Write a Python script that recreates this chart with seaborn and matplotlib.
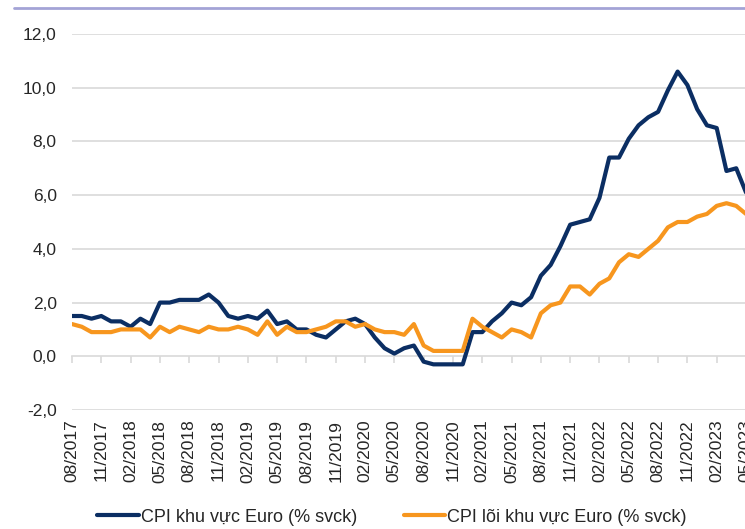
import pandas as pd
import numpy as np
import matplotlib
matplotlib.use("Agg")
import matplotlib.pyplot as plt
import seaborn as sns
from matplotlib.lines import Line2D

# monthly, 08/2017 .. 05/2023
months = pd.date_range("2017-08-01", "2023-05-01", freq="MS").strftime("%m/%Y").tolist()

cpi = [1.5, 1.5, 1.4, 1.5, 1.3,
       1.3, 1.1, 1.4, 1.2, 2.0, 2.0, 2.1, 2.1, 2.1, 2.3, 2.0, 1.5,
       1.4, 1.5, 1.4, 1.7, 1.2, 1.3, 1.0, 1.0, 0.8, 0.7, 1.0, 1.3,
       1.4, 1.2, 0.7, 0.3, 0.1, 0.3, 0.4, -0.2, -0.3, -0.3, -0.3, -0.3,
       0.9, 0.9, 1.3, 1.6, 2.0, 1.9, 2.2, 3.0, 3.4, 4.1, 4.9, 5.0,
       5.1, 5.9, 7.4, 7.4, 8.1, 8.6, 8.9, 9.1, 9.9, 10.6, 10.1, 9.2,
       8.6, 8.5, 6.9, 7.0, 6.1]

core = [1.2, 1.1, 0.9, 0.9, 0.9,
        1.0, 1.0, 1.0, 0.7, 1.1, 0.9, 1.1, 1.0, 0.9, 1.1, 1.0, 1.0,
        1.1, 1.0, 0.8, 1.3, 0.8, 1.1, 0.9, 0.9, 1.0, 1.1, 1.3, 1.3,
        1.1, 1.2, 1.0, 0.9, 0.9, 0.8, 1.2, 0.4, 0.2, 0.2, 0.2, 0.2,
        1.4, 1.1, 0.9, 0.7, 1.0, 0.9, 0.7, 1.6, 1.9, 2.0, 2.6, 2.6,
        2.3, 2.7, 2.9, 3.5, 3.8, 3.7, 4.0, 4.3, 4.8, 5.0, 5.0, 5.2,
        5.3, 5.6, 5.7, 5.6, 5.3]

series_names = ["CPI khu vực Euro (% svck)", "CPI lõi khu vực Euro (% svck)"]
colors = ["#0b2e63", "#f7961e"]
y_ticks = [-2, 0, 2, 4, 6, 8, 10, 12]

df = pd.DataFrame({
    "idx": list(range(len(months))) * 2,
    "value": cpi + core,
    "series": [series_names[0]] * len(cpi) + [series_names[1]] * len(core),
})

sns.set_theme(style="white")
plt.rcParams["font.family"] = ["Liberation Sans", "DejaVu Sans"]

fig = plt.figure(figsize=(7.45, 5.29), dpi=100)
W, H = 745, 529
ax = fig.add_axes([72 / W, (H - 410) / H, 674 / W, 376 / H])

sns.lineplot(data=df, x="idx", y="value", hue="series", palette=colors,
             linewidth=3.0, ax=ax, legend=True)
for line in ax.get_lines():
    line.set_solid_joinstyle("round")
    line.set_solid_capstyle("round")

ax.set_xlim(0, len(months) - 1)
ax.set_ylim(-2, 12)
ax.set_yticks(y_ticks)
ax.set_yticklabels([f"{v:.1f}".replace(".", ",") for v in y_ticks], fontsize=12.5, color="#262626")
ax.tick_params(axis="y", length=0, pad=11)
for v in y_ticks:
    if v != 0:
        ax.axhline(v, color="#d9d9d9", lw=1.2, zorder=0)

tick_pos = list(range(0, len(months), 3))
ax.set_xticks(tick_pos)
ax.set_xticklabels([months[i] for i in tick_pos], rotation=90, fontsize=12.5, color="#262626")
ax.tick_params(axis="x", length=0, pad=7)
ax.set_xlabel("")
ax.set_ylabel("")
for s in ax.spines.values():
    s.set_visible(False)

# zero line with tick marks
sec = ax.secondary_xaxis(2 / 14)
sec.set_xticks(tick_pos)
sec.set_xticklabels([])
sec.tick_params(axis="x", direction="out", length=5, color="#d9d9d9", width=1.2)
sec.spines["bottom"].set_color("#d9d9d9")
sec.spines["bottom"].set_linewidth(1.2)

leg = ax.legend(loc="center", bbox_to_anchor=(392 / W, 12 / H), bbox_transform=fig.transFigure,
                ncol=2, frameon=False, fontsize=13, handlelength=2.3, handletextpad=0.1,
                columnspacing=2.6)
for line in leg.get_lines():
    line.set_linewidth(3.0)

fig.add_artist(Line2D([14 / W, 1.0], [(H - 8) / H, (H - 8) / H], transform=fig.transFigure,
                      color="#a3a3d6", lw=2))

fig.savefig("out.png", dpi=100)
